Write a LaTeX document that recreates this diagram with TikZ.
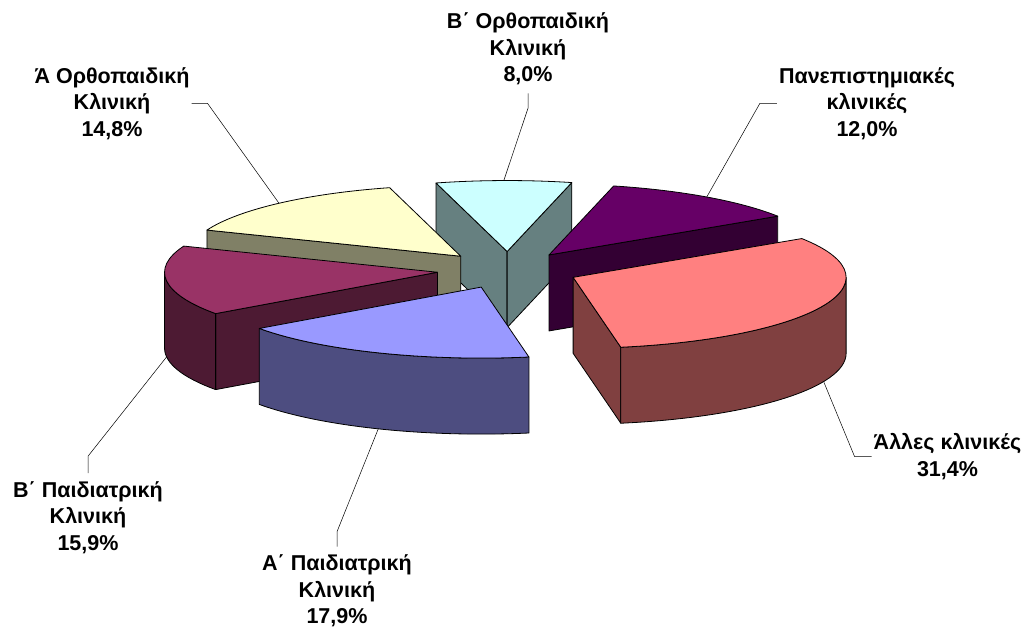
\documentclass[tikz,border=0pt]{standalone}
\usepackage{fontspec}
\setmainfont{Liberation Sans}
\usepackage{xcolor}

\definecolor{othertop}{HTML}{FF8080}
\definecolor{otherside}{HTML}{804040}
\definecolor{paedAtop}{HTML}{9999FF}
\definecolor{paedAside}{HTML}{4D4D80}
\definecolor{paedBtop}{HTML}{993366}
\definecolor{paedBside}{HTML}{4D1A33}
\definecolor{orthAtop}{HTML}{FFFFCC}
\definecolor{orthAside}{HTML}{808066}
\definecolor{orthBtop}{HTML}{CCFFFF}
\definecolor{orthBside}{HTML}{668080}
\definecolor{univtop}{HTML}{660066}
\definecolor{univside}{HTML}{330033}

% pie centre, half axes, thickness, explosion
\newcommand{\pox}{508}
\newcommand{\poy}{270}
\newcommand{\pa}{273}
\newcommand{\pb}{71}
\newcommand{\ph}{76}
\newcommand{\pex}{0.26}

\newcommand{\setslice}[3]{%
  \coordinate (#1) at ({\pox+\pex*\pa*cos((#2+(#3))/2)},{\poy-\pex*\pb*sin((#2+(#3))/2)});
  \coordinate (#1-out) at ({\pox+(1+\pex)*\pa*cos((#2+(#3))/2)},{\poy-(1+\pex)*\pb*sin((#2+(#3))/2)});
  \coordinate (#1-low) at ({\pox+(1+\pex)*\pa*cos((#2+(#3))/2)},{\poy+\ph-(1+\pex)*\pb*sin((#2+(#3))/2)});}
\newcommand{\topface}[4]{%
  \draw[face,fill=#4] (#1) -- ++({\pa*cos(#2)},{-\pb*sin(#2)})
    arc[start angle=#2,end angle=#3,x radius=\pa pt,y radius=\pb pt] -- cycle;}
\newcommand{\rimface}[4]{%
  \draw[face,fill=#4] (#1) ++({\pa*cos(#2)},{-\pb*sin(#2)})
    arc[start angle=#2,end angle=#3,x radius=\pa pt,y radius=\pb pt] -- ++(0,\ph)
    arc[start angle=#3,end angle=#2,x radius=\pa pt,y radius=\pb pt] -- cycle;}
\newcommand{\cutface}[3]{%
  \draw[face,fill=#3] (#1) -- ++({\pa*cos(#2)},{-\pb*sin(#2)}) -- ++(0,\ph)
    -- ++({-\pa*cos(#2)},{\pb*sin(#2)}) -- cycle;}

\begin{document}
\begin{tikzpicture}[x=1pt,y=-1pt,
  face/.style={draw=black,line width=0.8pt,line join=round},
  lbl/.style={align=center,inner sep=2pt,font=\bfseries\fontsize{21.5}{26.5}\selectfont},
  leader/.style={draw=black,line width=0.5pt}]
\useasboundingbox (0,0) rectangle (1026,628);

\setslice{other}{33.10}{-79.94}
\setslice{paedA}{-79.94}{-144.38}
\setslice{paedB}{-144.38}{-201.62}
\setslice{orthA}{158.38}{105.10}
\setslice{orthB}{105.10}{76.30}
\setslice{univ}{76.30}{33.10}

% back slices
\cutface{orthB}{105.10}{orthBside}
\cutface{orthB}{76.30}{orthBside}
\topface{orthB}{105.10}{76.30}{orthBtop}
\cutface{orthA}{158.38}{orthAside}
\topface{orthA}{158.38}{105.10}{orthAtop}
\cutface{univ}{33.10}{univside}
\topface{univ}{76.30}{33.10}{univtop}
% front slices
\cutface{paedB}{-144.38}{paedBside}
\rimface{paedB}{-144.38}{-180}{paedBside}
\topface{paedB}{-144.38}{-201.62}{paedBtop}
\cutface{other}{-79.94}{otherside}
\rimface{other}{0}{-79.94}{otherside}
\topface{other}{33.10}{-79.94}{othertop}
\rimface{paedA}{-79.94}{-144.38}{paedAside}
\topface{paedA}{-79.94}{-144.38}{paedAtop}

\node[lbl] (orthBlbl) at (528,49) {Β΄ Ορθοπαιδική\\Κλινική\\8,0\%};
\node[lbl] (orthAlbl) at (112,103.5) {Ά Ορθοπαιδική\\Κλινική\\14,8\%};
\node[lbl] (univlbl) at (867,103.5) {Πανεπιστημιακές\\κλινικές\\12,0\%};
\node[lbl] (otherlbl) at (947.5,456.5) {Άλλες κλινικές\\31,4\%};
\node[lbl] (paedBlbl) at (88,517.5) {Β΄ Παιδιατρική\\Κλινική\\15,9\%};
\node[lbl] (paedAlbl) at (337,591) {Α΄ Παιδιατρική\\Κλινική\\17,9\%};

\draw[leader] (orthAlbl.east) -- ++(16,0) -- (orthA-out);
\draw[leader] ([yshift=-6pt]orthBlbl.south) -- ++(0,15) -- (orthB-out);
\draw[leader] (univlbl.west) -- ++(-17,0) -- (univ-out);
\draw[leader] (otherlbl.west) -- ++(-17,0) -- (other-low);
\draw[leader] ([yshift=6pt]paedBlbl.north) -- ++(0,-17) -- (paedB-low);
\draw[leader] ([yshift=6pt]paedAlbl.north) -- ++(0,-15) -- (paedA-low);
\end{tikzpicture}
\end{document}
